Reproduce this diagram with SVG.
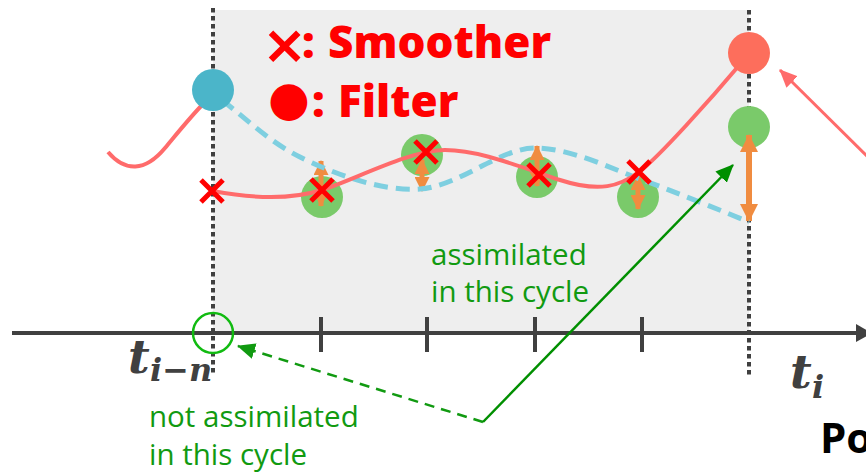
<svg xmlns="http://www.w3.org/2000/svg" width="866" height="472" viewBox="0 0 866 472">
<style>
.dot{stroke:#404040;stroke-width:4;stroke-dasharray:4.5 3.5;fill:none}
.tick{stroke:#404040;stroke-width:4}
.gdot{fill:#7aca6a}
.xm{stroke:#ff0000;stroke-width:5;stroke-linecap:butt}
.oa{stroke:#f08c40;stroke-width:6;marker-start:url(#oh);marker-end:url(#oh)}
.oas{stroke:#f08c40;stroke-width:5;marker-start:url(#ohs);marker-end:url(#ohs)}
.leg{font-family:"Open Sans","Liberation Sans",sans-serif;font-weight:800;fill:#ff0000;font-size:44px}
.gt{font-family:"Open Sans","Liberation Sans",sans-serif;fill:#119a11;font-size:29.5px}
.math{font-family:"DejaVu Serif",serif;font-weight:bold;font-style:italic;fill:#404040}
</style>
<defs>
<marker id="oh" markerUnits="userSpaceOnUse" markerWidth="18" markerHeight="18" viewBox="0 0 18 18" refX="17" refY="9" orient="auto-start-reverse"><path d="M0,0 L18,9 L0,18 z" fill="#f08c40"/></marker>
<marker id="ohs" markerUnits="userSpaceOnUse" markerWidth="15" markerHeight="15" viewBox="0 0 15 15" refX="14" refY="7.5" orient="auto-start-reverse"><path d="M0,0 L15,7.5 L0,15 z" fill="#f08c40"/></marker>
<marker id="ax" markerUnits="userSpaceOnUse" markerWidth="16" markerHeight="18" viewBox="0 0 16 18" refX="2" refY="9" orient="auto"><path d="M0,0 L16,9 L0,18 z" fill="#404040"/></marker>
<marker id="ga" markerUnits="userSpaceOnUse" markerWidth="18" markerHeight="16" viewBox="0 0 18 16" refX="17" refY="8" orient="auto"><path d="M0,0 L18,8 L0,16 z" fill="#119a11"/></marker>
<marker id="gs" markerUnits="userSpaceOnUse" markerWidth="18" markerHeight="16" viewBox="0 0 18 16" refX="17" refY="8" orient="auto"><path d="M0,0 L18,8 L0,16 z" fill="#008f00"/></marker>
<marker id="ra" markerUnits="userSpaceOnUse" markerWidth="18" markerHeight="16" viewBox="0 0 18 16" refX="17" refY="8" orient="auto"><path d="M0,0 L18,8 L0,16 z" fill="#ff6b6b"/></marker>
</defs>
<rect width="866" height="472" fill="#ffffff"/>
<g id="window">
<rect x="213" y="10" width="536" height="323" fill="#eeeeee"/>
<line class="dot" x1="213" y1="8" x2="213" y2="375"/>
<line class="dot" x1="749" y1="10" x2="749" y2="376"/>
</g>
<g id="axis">
<line x1="12" y1="333" x2="858" y2="333" stroke="#404040" stroke-width="4" marker-end="url(#ax)"/>
<line class="tick" x1="321" y1="317" x2="321" y2="352"/>
<line class="tick" x1="427" y1="317" x2="427" y2="352"/>
<line class="tick" x1="535" y1="317" x2="535" y2="352"/>
<line class="tick" x1="642" y1="317" x2="642" y2="352"/>
<text class="math" x="128" y="373" font-size="47">t<tspan x="150" y="381" font-size="32">i−n</tspan></text>
<text class="math" x="790" y="388" font-size="47">t<tspan x="812" y="398" font-size="32">i</tspan></text>
<text x="820" y="453" font-family="Open Sans, Liberation Sans, sans-serif" font-weight="bold" font-size="42" fill="#000000">Po</text>
</g>
<g id="observations">
<circle class="gdot" cx="322" cy="197" r="21"/>
<circle class="gdot" cx="422" cy="155" r="21"/>
<circle class="gdot" cx="537" cy="177" r="21"/>
<circle class="gdot" cx="638" cy="197" r="21"/>
<circle class="gdot" cx="749" cy="127" r="21"/>
</g>
<g id="innovations">
<line class="oas" x1="321" y1="161" x2="321" y2="206"/>
<line class="oas" x1="422" y1="160" x2="422" y2="191"/>
<line class="oas" x1="537" y1="146" x2="537" y2="186"/>
<line class="oas" x1="638" y1="176" x2="638" y2="209"/>
<line class="oa" x1="749" y1="135" x2="749" y2="221"/>
</g>
<g id="curves">
<path d="M222,100 C250,122 270,142 300,157 S380,192 420,189 S500,148 535,148 S610,168 640,179 S720,210 749,222" fill="none" stroke="#7ecfe0" stroke-width="5" stroke-dasharray="14 8"/>
<path d="M108,152 C125,172 145,172 165,148 C180,130 192,115 205,102" fill="none" stroke="#ff6b6b" stroke-width="4"/>
<path d="M213,191 C250,198 290,200 322,190 S410,150 445,150 S520,167 560,180 S620,186 639,172 S710,100 742,62" fill="none" stroke="#ff6b6b" stroke-width="4"/>
</g>
<g id="smoother">
<path class="xm" d="M201,180 L223,202 M223,180 L201,202"/>
<path class="xm" d="M311,179 L333,201 M333,179 L311,201"/>
<path class="xm" d="M415,141 L437,163 M437,141 L415,163"/>
<path class="xm" d="M528,164 L550,186 M550,164 L528,186"/>
<path class="xm" d="M628,161 L650,183 M650,161 L628,183"/>
</g>
<g id="filter">
<circle cx="213" cy="90" r="21" fill="#4bb5c9"/>
<circle cx="749" cy="53" r="21" fill="#fd6e5c"/>
</g>
<g id="legend">
<text class="leg" y="58"><tspan x="262" y="63" font-family="DejaVu Sans, sans-serif" font-weight="bold" font-size="54">×</tspan><tspan x="302" y="58">:</tspan><tspan x="328">Smoother</tspan></text>
<text class="leg" y="117"><tspan x="268" y="115" font-family="DejaVu Sans, sans-serif" font-size="48">●</tspan><tspan x="312" y="117">:</tspan><tspan x="338">Filter</tspan></text>
</g>
<g id="labels">
<text class="gt" x="431" y="265">assimilated</text>
<text class="gt" x="431" y="302">in this cycle</text>
<text class="gt" x="149" y="427">not assimilated</text>
<text class="gt" x="149" y="465">in this cycle</text>
<circle cx="213" cy="333" r="20" fill="none" stroke="#11bb11" stroke-width="2.5"/>
</g>
<g id="connectors">
<line x1="483" y1="422" x2="238" y2="346" stroke="#119a11" stroke-width="2.5" stroke-dasharray="10 7" marker-end="url(#ga)"/>
<line x1="483" y1="422" x2="733" y2="165" stroke="#008f00" stroke-width="2.5" marker-end="url(#gs)"/>
<line x1="868" y1="157" x2="780" y2="70" stroke="#ff6b6b" stroke-width="3" marker-end="url(#ra)"/>
</g>
</svg>
